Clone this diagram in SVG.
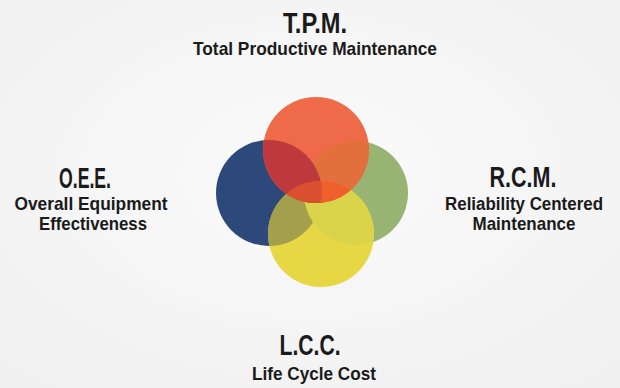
<svg xmlns="http://www.w3.org/2000/svg" width="620" height="388" viewBox="0 0 620 388">
<defs>
<radialGradient id="bg" cx="0.5" cy="0.45" r="0.7">
<stop offset="0" stop-color="#fbfbfb"/>
<stop offset="1" stop-color="#f0f0f0"/>
</radialGradient>
<clipPath id="cBlue"><circle cx="269" cy="193" r="53"/></clipPath>
<clipPath id="cGreen"><circle cx="356" cy="193" r="52"/></clipPath>
<clipPath id="cYellow"><circle cx="321" cy="234" r="53"/></clipPath>
<circle id="yc" cx="321" cy="234" r="53"/>
<circle id="oc" cx="316" cy="150" r="53"/>
</defs>
<style>
.t{font-family:"Liberation Sans",Arial,sans-serif;font-weight:bold;fill:#1a1a1a;text-anchor:middle}
.h{font-size:29px}
.s{font-size:19px}
</style>
<rect width="620" height="388" fill="url(#bg)"/>
<g id="circles">
<circle id="oee-circle" cx="269" cy="193" r="53" fill="#2d497b"/>
<circle id="rcm-circle" cx="356" cy="193" r="52" fill="#97b473"/>
<use id="lcc-circle" href="#yc" fill="#e8d744"/>
<use href="#yc" fill="#a39f4c" clip-path="url(#cBlue)"/>
<use href="#yc" fill="#dad44a" clip-path="url(#cGreen)"/>
<use id="tpm-circle" href="#oc" fill="#ef6a48"/>
<use href="#oc" fill="#e3703c" clip-path="url(#cGreen)"/>
<use href="#oc" fill="#be393c" clip-path="url(#cBlue)"/>
<use href="#oc" fill="#f0602a" clip-path="url(#cYellow)"/>
<g clip-path="url(#cBlue)"><use href="#oc" fill="#d8502f" clip-path="url(#cYellow)"/></g>
</g>
<g id="tpm">
<text class="t h" x="315" y="33" textLength="64" lengthAdjust="spacingAndGlyphs">T.P.M.</text>
<text class="t s" x="315" y="55" textLength="244" lengthAdjust="spacingAndGlyphs">Total Productive Maintenance</text>
</g>
<g id="oee">
<text class="t h" x="85" y="188" textLength="52" lengthAdjust="spacingAndGlyphs">O.E.E.</text>
<text class="t s" x="91" y="210" textLength="153" lengthAdjust="spacingAndGlyphs">Overall Equipment</text>
<text class="t s" x="93" y="230" textLength="108" lengthAdjust="spacingAndGlyphs">Effectiveness</text>
</g>
<g id="rcm">
<text class="t h" x="523" y="187" textLength="67" lengthAdjust="spacingAndGlyphs">R.C.M.</text>
<text class="t" x="524" y="210" font-size="18" textLength="158" lengthAdjust="spacingAndGlyphs">Reliability Centered</text>
<text class="t s" x="524" y="230" textLength="103" lengthAdjust="spacingAndGlyphs">Maintenance</text>
</g>
<g id="lcc">
<text class="t h" x="310" y="355" textLength="61" lengthAdjust="spacingAndGlyphs">L.C.C.</text>
<text class="t s" x="314" y="380" textLength="124" lengthAdjust="spacingAndGlyphs">Life Cycle Cost</text>
</g>
</svg>
